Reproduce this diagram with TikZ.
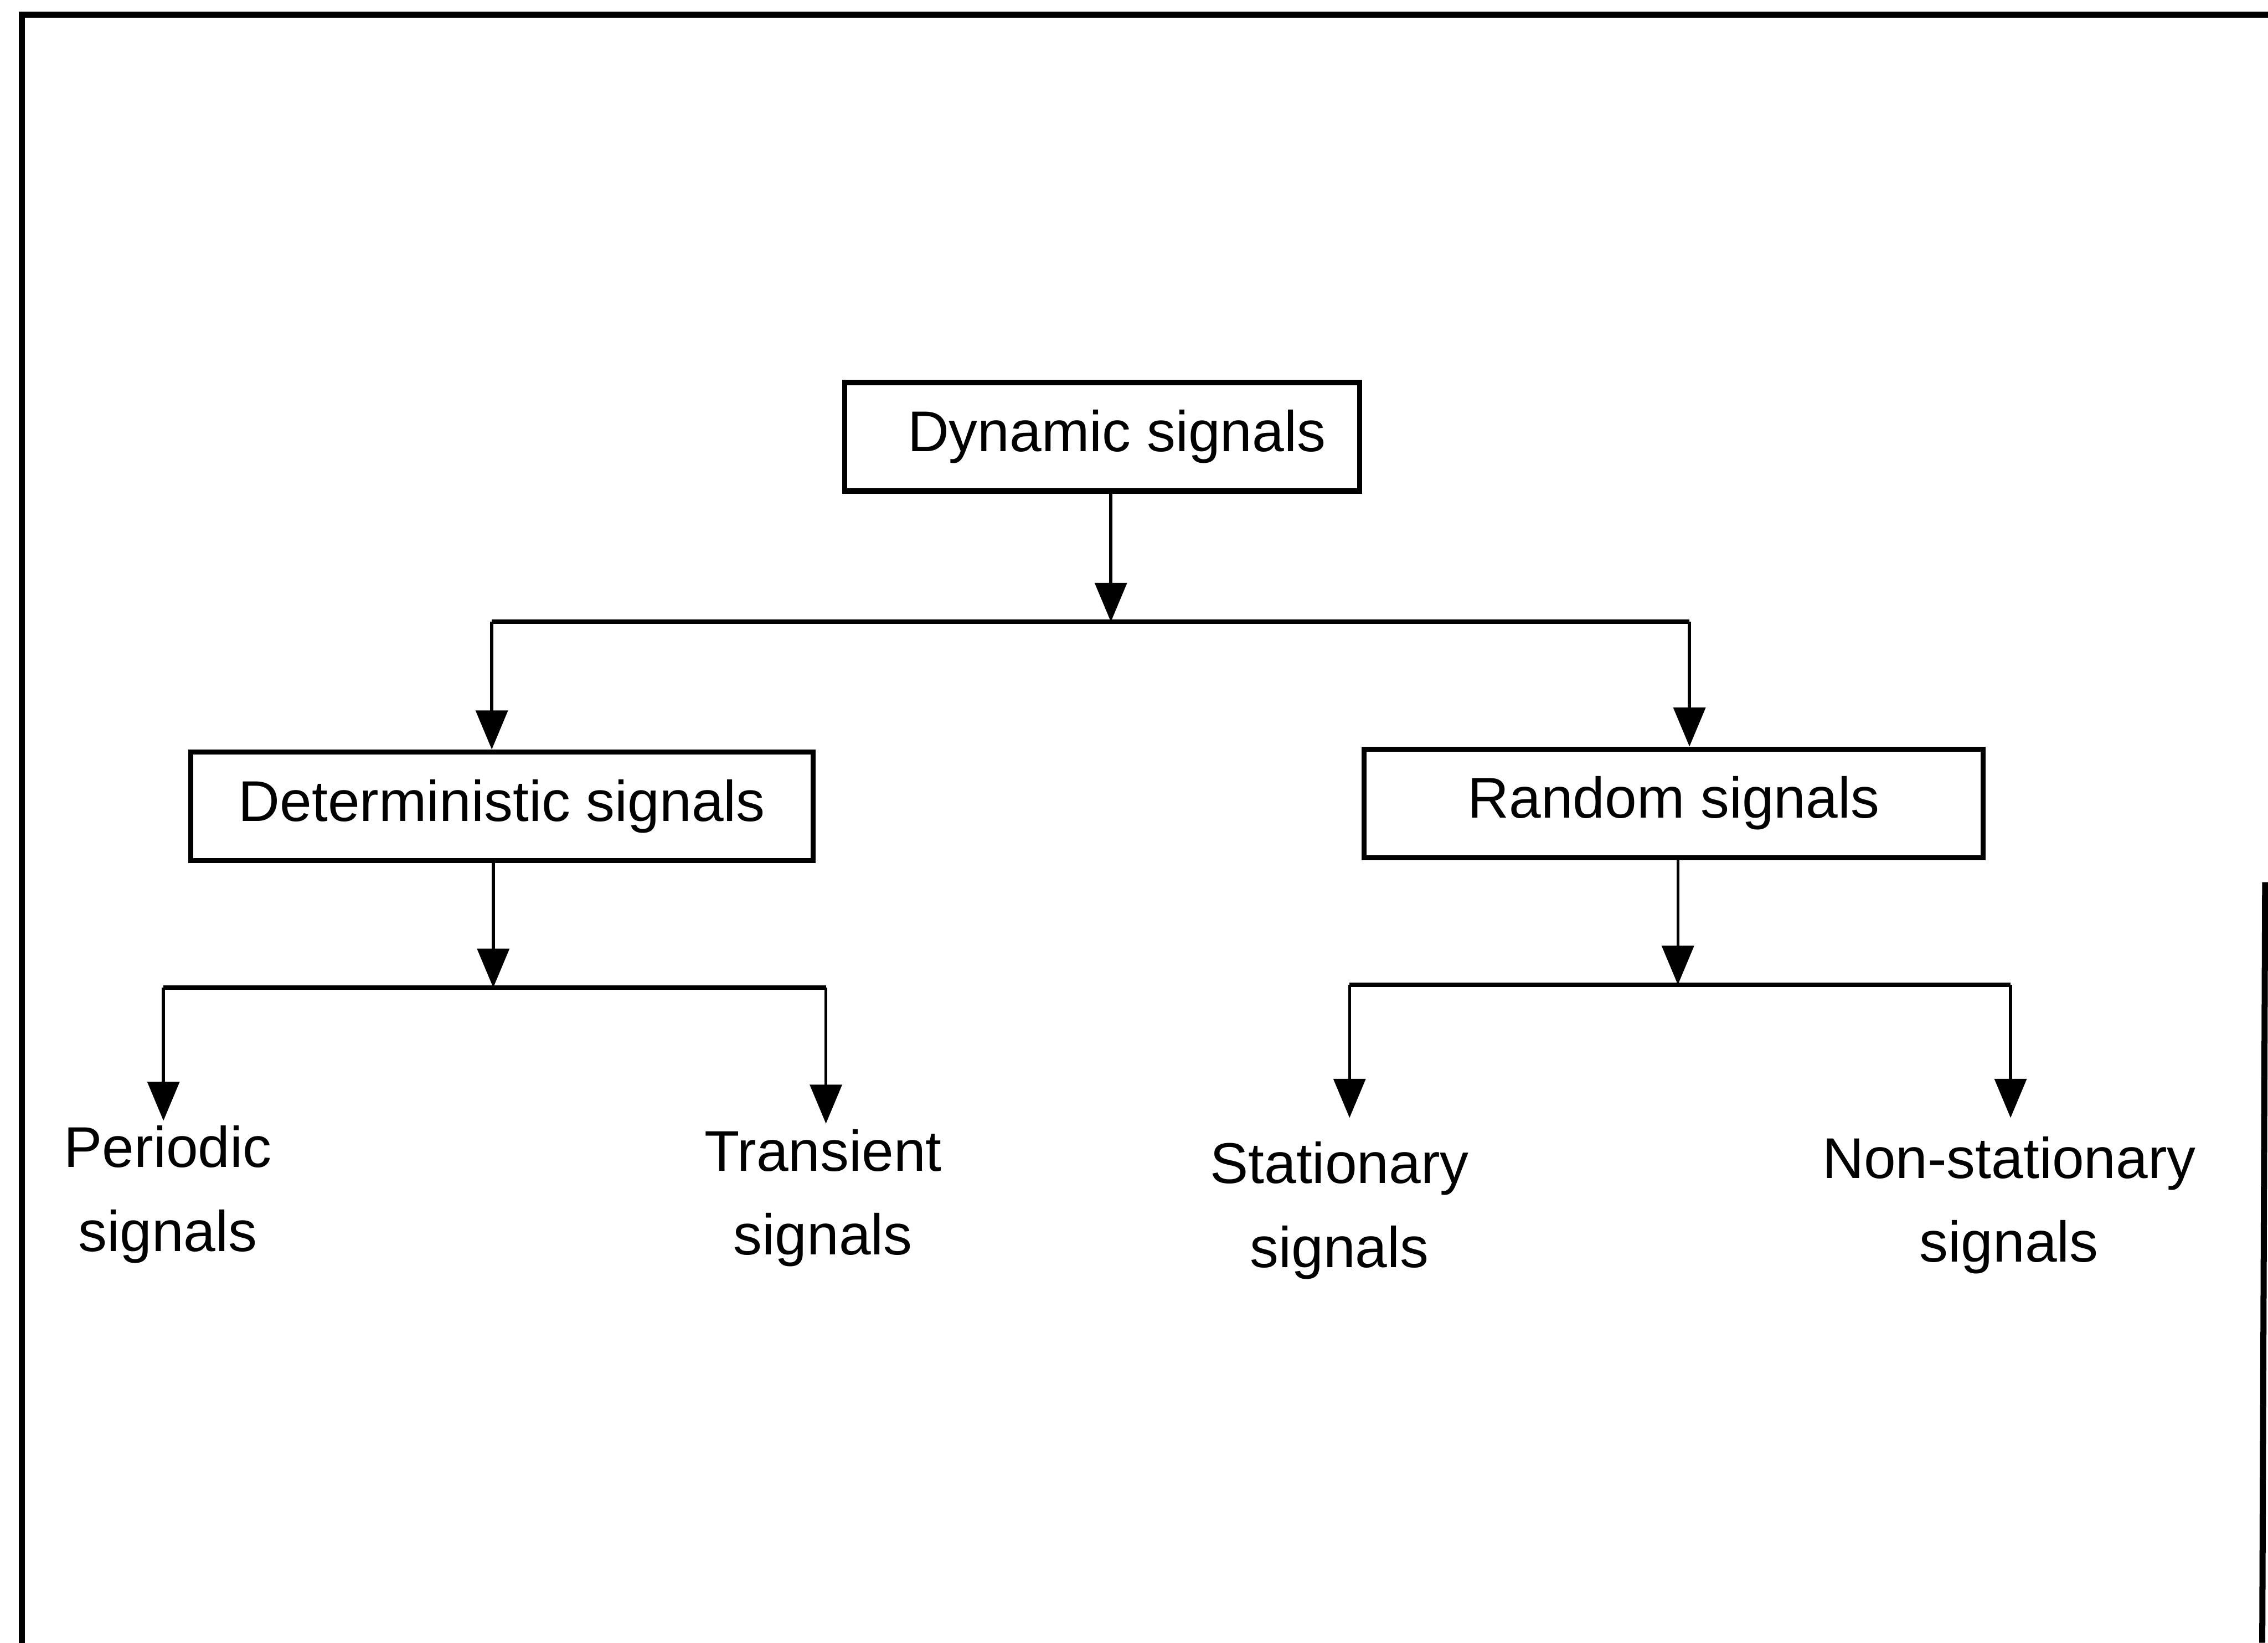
\documentclass[tikz,border=0pt]{standalone}
\usepackage{fontspec}
\setmainfont{Liberation Sans}
\usetikzlibrary{arrows.meta}
\begin{document}
\begin{tikzpicture}[
  every node/.style={font=\fontsize{11.3}{16.5}\selectfont},
  box/.style={draw, line width=1pt, minimum height=0.75cm, inner sep=0pt},
  leaf/.style={align=center, inner sep=0pt},
  arr/.style={line width=0.6pt, -{Triangle[length=0.27cm,width=0.22cm]}},
  bar/.style={line width=0.9pt},
  frame/.style={line width=1.2pt}
]
\useasboundingbox (0,0) rectangle (15.68,-11.36);
% frame
\draw[frame] (0.15,-11.36) -- (0.15,-0.10) -- (15.68,-0.10);
\draw[frame] (15.66,-6.10) -- (15.64,-11.36);

% boxes
\node[box, minimum width=3.56cm] (dyn) at (7.62,-3.02) {\hspace*{0.2cm}\raisebox{-0.04cm}{Dynamic signals}};
\node[box, minimum width=4.30cm] (det) at (3.47,-5.575) {\raisebox{-0.03cm}{Deterministic signals}};
\node[box, minimum width=4.28cm] (ran) at (11.57,-5.555) {Random signals};

% leaves
\node[leaf] (per) at (1.16,-8.26) {Periodic\\signals};
\node[leaf] (tra) at (5.69,-8.285) {Transient\\signals};
\node[leaf] (sta) at (9.26,-8.37) {Stationary\\signals};
\node[leaf] (non) at (13.89,-8.335) {Non-stationary\\signals};

% junction coordinates
\coordinate (j1) at (7.68,-4.30);
\coordinate (j1l) at (3.40,-4.30);
\coordinate (j1r) at (11.68,-4.30);
\coordinate (j2) at (3.41,-6.83);
\coordinate (j2l) at (1.13,-6.83);
\coordinate (j2r) at (5.71,-6.83);
\coordinate (j3) at (11.60,-6.81);
\coordinate (j3l) at (9.33,-6.81);
\coordinate (j3r) at (13.90,-6.81);
\coordinate (tper) at (1.13,-7.75);
\coordinate (ttra) at (5.71,-7.77);
\coordinate (tsta) at (9.33,-7.73);
\coordinate (tnon) at (13.90,-7.73);

% connectors
\draw[arr] (dyn.south -| j1) -- (j1);
\draw[bar] (j1l) -- (j1r);
\draw[arr] (j1l) -- (det.north -| j1l);
\draw[arr] (j1r) -- (ran.north -| j1r);

\draw[arr] (det.south -| j2) -- (j2);
\draw[bar] (j2l) -- (j2r);
\draw[arr] (j2l) -- (tper);
\draw[arr] (j2r) -- (ttra);

\draw[arr] (ran.south -| j3) -- (j3);
\draw[bar] (j3l) -- (j3r);
\draw[arr] (j3l) -- (tsta);
\draw[arr] (j3r) -- (tnon);
\end{tikzpicture}
\end{document}
